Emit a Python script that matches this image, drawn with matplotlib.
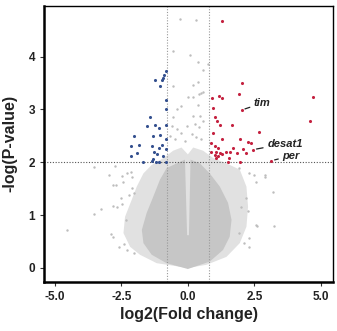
import matplotlib
matplotlib.use("Agg")
import matplotlib.pyplot as plt
from matplotlib.patches import Polygon

plt.rcParams['font.family'] = ['Liberation Sans', 'DejaVu Sans']

# outline of the dense non-significant cloud (outer speckled edge and solid core)
halo_x = [0, -1.17, -1.80, -2.17, -2.42, -2.36, -2.11, -1.92, -1.67, -1.36, -0.92, -0.55, -0.24,
          0, 0.20, 0.57, 0.95, 1.45, 1.95, 2.20, 2.26, 2.20, 1.95, 1.45, 0.70]
halo_y = [0, 0.09, 0.25, 0.40, 0.66, 0.97, 1.29, 1.54, 1.79, 1.95, 2.08, 2.22, 2.28,
          2.15, 2.28, 2.22, 2.08, 1.98, 1.86, 1.54, 1.16, 0.78, 0.47, 0.21, 0.06]
core_x = [0, -0.80, -1.36, -1.67, -1.73, -1.55, -1.30, -1.05, -0.80, -0.42, -0.11, -0.03,
          0.04, 0.10, 0.45, 0.82, 1.20, 1.51, 1.64, 1.57, 1.32, 0.82]
core_y = [-0.02, 0.09, 0.25, 0.47, 0.72, 1.04, 1.35, 1.67, 1.89, 1.98, 2.05, 0.62,
          0.62, 2.05, 1.98, 1.79, 1.54, 1.23, 0.91, 0.59, 0.34, 0.12]

# scattered non-significant genes outside the cloud
gray_x = [-0.30, 0.29, -0.55, 0.07, 0.39, 0.74, 0.57, -0.55, 0.20, 0.39, -0.24, 0.57, 0.20,
          0.42, 0.39, -0.42, 0.45, 0.20, -0.55, -0.61, -0.42, -0.05, 0.26, 0.42, 0.57, -0.24,
          0.14, -0.67, 0.32, -0.49, -0.11, 0.51, 0.01, 0.49,
          -3.52, -2.73, -2.96, -2.27, -2.15, -2.46, -2.83, -2.71, -2.43, -2.09, -2.02, -2.21,
          -2.83, -2.67, -3.27, -3.52, -2.46, -2.33, -4.54, -2.90, -2.83, -2.40, -2.58, -2.27,
          -2.02, -2.52, -2.11,
          1.92, 2.30, 2.48, 2.55, 2.90, 3.21, 2.17, 1.99, 2.27, 2.61, 3.23, 2.30, 2.30, 2.11,
          1.92, 2.88, 2.57]
gray_y = [4.71, 4.69, 4.11, 4.03, 3.89, 3.86, 3.74, 3.45, 3.46, 3.52, 3.07, 3.33, 3.23,
          3.29, 3.08, 3.01, 2.88, 2.88, 2.85, 2.69, 2.63, 2.69, 2.72, 2.66, 2.78, 2.56,
          2.53, 2.50, 2.47, 2.44, 2.41, 2.44, 3.24, 3.32,
          1.92, 1.93, 1.76, 1.80, 1.82, 1.74, 1.57, 1.57, 1.63, 1.51, 1.41, 1.38,
          1.17, 1.16, 1.11, 1.02, 1.22, 0.91, 0.71, 0.64, 0.59, 0.45, 0.40, 0.34,
          0.28, 1.32, 1.73,
          1.89, 1.79, 1.76, 1.63, 1.72, 1.43, 1.32, 1.16, 1.07, 0.80, 0.80, 0.56, 0.40, 0.47,
          0.66, 1.76, 0.81]

# down-regulated (blue) and up-regulated (red) genes
down_x = [-0.82, -0.90, -0.95, -0.99, -1.22, -1.05, -0.82, -0.82, -1.42, -1.55, -1.22, -1.10,
          -0.82, -2.02, -1.32, -1.05, -0.82, -1.82, -2.15, -1.36, -0.99, -1.07, -0.82, -1.92,
          -1.27, -2.15, -1.17, -0.95, -1.70, -1.30, -1.20, -1.07, -0.82, -1.36]
down_y = [3.73, 3.66, 3.59, 3.56, 3.56, 3.45, 3.18, 3.01, 2.85, 2.69, 2.70, 2.65,
          2.71, 2.50, 2.50, 2.52, 2.44, 2.33, 2.30, 2.31, 2.33, 2.27, 2.25, 2.18,
          2.20, 2.11, 2.16, 2.12, 2.01, 2.06, 2.01, 2.01, 2.01, 2.02]
up_x = [1.30, 0.90, 1.17, 1.30, 2.05, 1.92, 4.69, 2.02, 0.95, 1.02, 1.10, 1.20, 1.67, 4.59,
        2.67, 0.95, 1.30, 1.97, 2.26, 2.38, 0.85, 1.70, 2.07, 1.85, 2.17, 1.01, 1.14, 1.05,
        1.20, 1.01, 1.14, 1.30, 1.45, 1.55, 1.07, 1.51, 1.95, 3.13, 0.85, 1.60, 2.45]
up_y = [4.67, 3.21, 3.26, 3.21, 3.51, 3.29, 3.24, 2.99, 3.02, 2.85, 2.79, 2.71, 2.71, 2.78,
        2.57, 2.55, 2.44, 2.44, 2.39, 2.37, 2.36, 2.27, 2.25, 2.17, 2.17, 2.30, 2.27, 2.20,
        2.17, 2.14, 2.11, 2.16, 2.20, 2.08, 2.08, 2.01, 2.01, 2.03, 2.20, 2.20, 2.24]

genes = ['tim', 'desat1', 'per']
gene_x = [2.02, 2.45, 3.13]
gene_y = [2.99, 2.24, 2.03]
label_x = [2.48, 2.98, 3.55]
label_y = [3.12, 2.35, 2.12]

fc_cut = 0.78
p_cut = 2

fig = plt.figure(figsize=(3.37, 3.31), dpi=100)
ax = fig.add_axes([0.131, 0.149, 0.857, 0.833])

ax.add_patch(Polygon(list(zip(halo_x, halo_y)), closed=True, facecolor='#e1e1e1',
                     edgecolor='none', zorder=1))
ax.add_patch(Polygon(list(zip(core_x, core_y)), closed=True, facecolor='#c6c6c6',
                     edgecolor='none', zorder=1))
ax.scatter(gray_x, gray_y, s=3, color='#bdbdbd', linewidths=0, zorder=2)
ax.scatter(down_x, down_y, s=5, color='#34508f', linewidths=0, zorder=3)
ax.scatter(up_x, up_y, s=5, color='#c4213f', linewidths=0, zorder=3)

ax.axhline(p_cut, color='#555555', lw=0.8, ls=(0, (1, 1.5)), zorder=2)
ax.axvline(-fc_cut, color='#999999', lw=0.8, ls=(0, (1, 1.5)), zorder=2)
ax.axvline(fc_cut, color='#999999', lw=0.8, ls=(0, (1, 1.5)), zorder=2)

for g, gx, gy, tx, ty in zip(genes, gene_x, gene_y, label_x, label_y):
    ax.annotate(g, xy=(gx, gy), xytext=(tx, ty), fontsize=8, fontweight='bold',
                fontstyle='italic', ha='left', va='center', color='#222222',
                arrowprops=dict(arrowstyle='-', color='#222222', lw=0.9,
                                shrinkA=1, shrinkB=2.5))

ax.set_xlim(-5.4, 5.45)
ax.set_ylim(-0.26, 4.96)
ax.set_xticks([-5, -2.5, 0, 2.5, 5])
ax.set_xticklabels(['-5.0', '-2.5', '0.0', '2.5', '5.0'])
ax.set_yticks([0, 1, 2, 3, 4])
ax.tick_params(direction='out', length=3, width=0.8, labelsize=8.5, color='#333333')
for lab in ax.get_xticklabels() + ax.get_yticklabels():
    lab.set_fontweight('bold')
    lab.set_color('#222222')

ax.spines['left'].set_linewidth(1.8)
ax.spines['bottom'].set_linewidth(1.8)
ax.spines['top'].set_linewidth(1.0)
ax.spines['right'].set_linewidth(1.0)

ax.set_xlabel('log2(Fold change)', fontsize=11.5, fontweight='bold', color='#222222', labelpad=3)
ax.set_ylabel('-log(P-value)', fontsize=11.5, fontweight='bold', color='#222222', labelpad=8)

fig.savefig('out.png', dpi=100)
